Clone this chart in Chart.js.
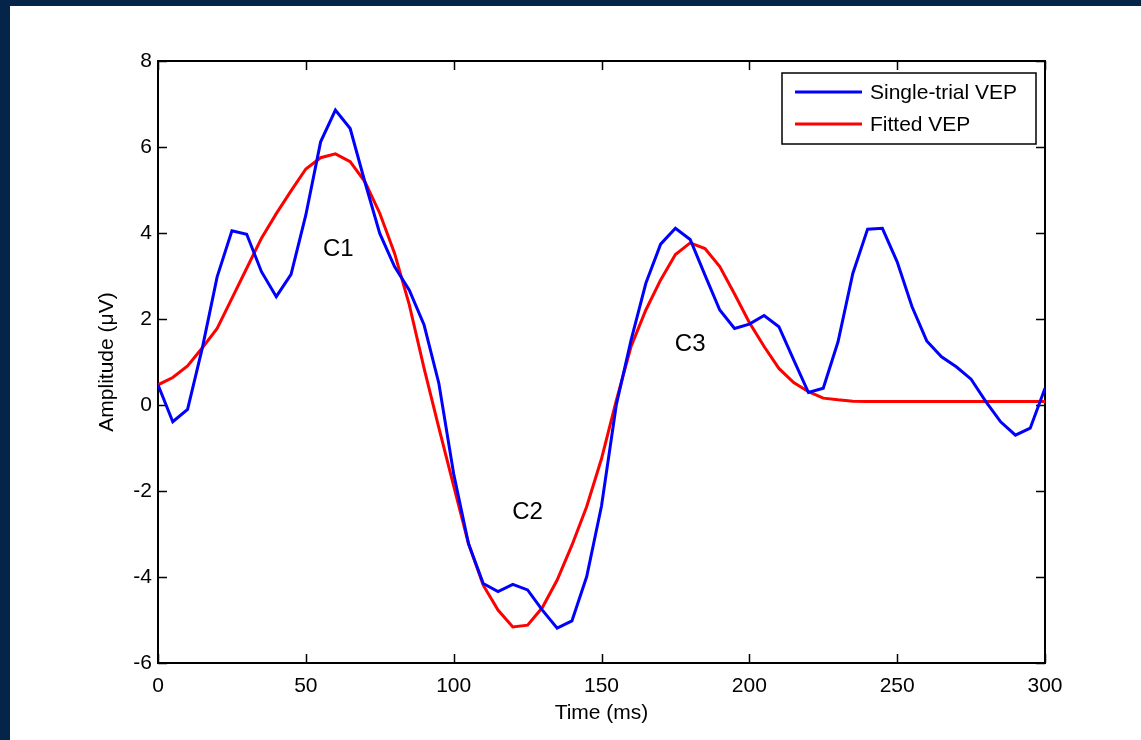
<!DOCTYPE html>
<html>
<head>
<meta charset="utf-8">
<script src="https://cdn.jsdelivr.net/npm/chart.js@4.4.1/dist/chart.umd.min.js"></script>
<style>
  html, body { margin: 0; padding: 0; background: #05244a; width: 1141px; height: 740px; overflow: hidden; }
  #wrap { position: absolute; left: 10px; top: 6px; width: 1131px; height: 734px; background: #ffffff; }
</style>
</head>
<body>
<div id="wrap"><canvas id="vep"></canvas></div>
<script>
// time base (ms), one sample every 5 ms
const timeMs = [
  0, 5, 10, 15, 20, 25, 30, 35, 40, 45,
  50, 55, 60, 65, 70, 75, 80, 85, 90, 95,
  100, 105, 110, 115, 120, 125, 130, 135, 140, 145,
  150, 155, 160, 165, 170, 175, 180, 185, 190, 195,
  200, 205, 210, 215, 220, 225, 230, 235, 240, 245,
  250, 255, 260, 265, 270, 275, 280, 285, 290, 295, 300
];

// single-trial VEP amplitude (µV)
const singleTrial = [
  0.47, -0.39, -0.10, 1.33, 2.98, 4.05, 3.97, 3.10, 2.52, 3.04,
  4.42, 6.12, 6.86, 6.43, 5.18, 3.99, 3.22, 2.67, 1.86, 0.50,
  -1.60, -3.22, -4.15, -4.34, -4.17, -4.30, -4.77, -5.19, -5.02, -3.99,
  -2.35, 0.00, 1.51, 2.83, 3.74, 4.11, 3.85, 3.02, 2.21, 1.78,
  1.88, 2.08, 1.82, 1.05, 0.29, 0.39, 1.47, 3.06, 4.09, 4.11,
  3.33, 2.29, 1.49, 1.12, 0.89, 0.60, 0.08, -0.39, -0.70, -0.54, 0.39
];

// fitted VEP (sum of components)
const fitted = [
  0.47, 0.64, 0.91, 1.33, 1.78, 2.48, 3.18, 3.88, 4.45, 4.98,
  5.49, 5.75, 5.84, 5.66, 5.19, 4.46, 3.53, 2.33, 0.85, -0.53,
  -1.88, -3.22, -4.19, -4.77, -5.16, -5.12, -4.71, -4.07, -3.26, -2.36,
  -1.25, 0.10, 1.36, 2.21, 2.91, 3.50, 3.77, 3.64, 3.22, 2.58,
  1.92, 1.36, 0.85, 0.52, 0.31, 0.16, 0.12, 0.09, 0.08, 0.08,
  0.08, 0.08, 0.08, 0.08, 0.08, 0.08, 0.08, 0.08, 0.08, 0.08, 0.08
];

const seriesNames = ['Single-trial VEP', 'Fitted VEP'];
const seriesColors = ['#0000ff', '#ff0000'];

// axis ticks
const xTicks = [0, 50, 100, 150, 200, 250, 300];
const yTicks = [-6, -4, -2, 0, 2, 4, 6, 8];

// component labels
const componentLabels = ['C1', 'C2', 'C3'];
const componentX = [61, 125, 180];
const componentY = [3.63, -2.49, 1.40];

const FONT = "'Liberation Sans', Arial, Helvetica, sans-serif";
Chart.defaults.font.family = FONT;
Chart.defaults.color = '#000000';

function toPoints(values) {
  return timeMs.map((t, i) => ({ x: t, y: values[i] }));
}

// box around the plot with inward ticks on all four sides
const boxAxes = {
  id: 'boxAxes',
  beforeDatasetsDraw(chart) {
    const { ctx, chartArea: a, scales: { x, y } } = chart;
    const tick = 9;
    ctx.save();
    ctx.strokeStyle = '#000000';
    ctx.lineWidth = 1.5;
    ctx.beginPath();
    xTicks.forEach(v => {
      const px = Math.round(x.getPixelForValue(v)) + 0.5;
      ctx.moveTo(px, a.bottom); ctx.lineTo(px, a.bottom - tick);
      ctx.moveTo(px, a.top); ctx.lineTo(px, a.top + tick);
    });
    yTicks.forEach(v => {
      const py = Math.round(y.getPixelForValue(v)) + 0.5;
      ctx.moveTo(a.left, py); ctx.lineTo(a.left + tick, py);
      ctx.moveTo(a.right, py); ctx.lineTo(a.right - tick, py);
    });
    ctx.stroke();
    ctx.lineWidth = 2;
    ctx.strokeRect(a.left, a.top, a.right - a.left, a.bottom - a.top);
    ctx.restore();
  },
  afterDatasetsDraw(chart) {
    const { ctx, chartArea: a, scales: { x, y } } = chart;
    ctx.save();
    // component names
    ctx.fillStyle = '#000000';
    ctx.font = '24px ' + FONT;
    ctx.textAlign = 'center';
    ctx.textBaseline = 'middle';
    componentLabels.forEach((lab, i) => {
      ctx.fillText(lab, x.getPixelForValue(componentX[i]), y.getPixelForValue(componentY[i]));
    });

    // legend
    const w = 254, h = 71;
    const bx = a.right - 9 - w, by = a.top + 12;
    ctx.fillStyle = '#ffffff';
    ctx.fillRect(bx, by, w, h);
    ctx.strokeStyle = '#000000';
    ctx.lineWidth = 1.5;
    ctx.strokeRect(bx, by, w, h);
    ctx.font = '21px ' + FONT;
    ctx.textAlign = 'left';
    ctx.textBaseline = 'middle';
    seriesNames.forEach((name, i) => {
      const ly = by + 19 + i * 32;
      ctx.strokeStyle = seriesColors[i];
      ctx.lineWidth = 3;
      ctx.beginPath();
      ctx.moveTo(bx + 13, ly);
      ctx.lineTo(bx + 80, ly);
      ctx.stroke();
      ctx.fillStyle = '#000000';
      ctx.fillText(name, bx + 88, ly + 1);
    });
    ctx.restore();
  }
};

new Chart(document.getElementById('vep'), {
  type: 'line',
  data: {
    datasets: [
      {
        label: seriesNames[0],
        data: toPoints(singleTrial),
        borderColor: seriesColors[0],
        borderWidth: 3,
        pointRadius: 0,
        tension: 0,
        fill: false
      },
      {
        label: seriesNames[1],
        data: toPoints(fitted),
        borderColor: seriesColors[1],
        borderWidth: 3,
        pointRadius: 0,
        tension: 0,
        fill: false
      }
    ]
  },
  options: {
    responsive: true,
    maintainAspectRatio: false,
    animation: false,
    devicePixelRatio: 1,
    layout: { padding: { left: 0, top: 55, right: 96, bottom: 0 } },
    plugins: {
      legend: { display: false },
      tooltip: { enabled: false }
    },
    scales: {
      x: {
        type: 'linear',
        min: 0,
        max: 300,
        afterBuildTicks: s => { s.ticks = xTicks.map(v => ({ value: v })); },
        afterFit: s => { s.height = 77; },
        grid: { display: false, drawTicks: false },
        border: { display: false },
        ticks: { font: { size: 21 }, padding: 11, maxRotation: 0 },
        title: { display: true, text: 'Time (ms)', font: { size: 21 }, padding: { top: 0, bottom: 14 } }
      },
      y: {
        type: 'linear',
        min: -6,
        max: 8,
        afterBuildTicks: s => { s.ticks = yTicks.map(v => ({ value: v })); },
        afterFit: s => { s.width = 148; },
        grid: { display: false, drawTicks: false },
        border: { display: false },
        ticks: { font: { size: 21 }, padding: 6 },
        title: { display: true, text: 'Amplitude (μV)', font: { size: 21 }, padding: { top: 85, bottom: 0 } }
      }
    }
  },
  plugins: [boxAxes]
});
</script>
</body>
</html>
